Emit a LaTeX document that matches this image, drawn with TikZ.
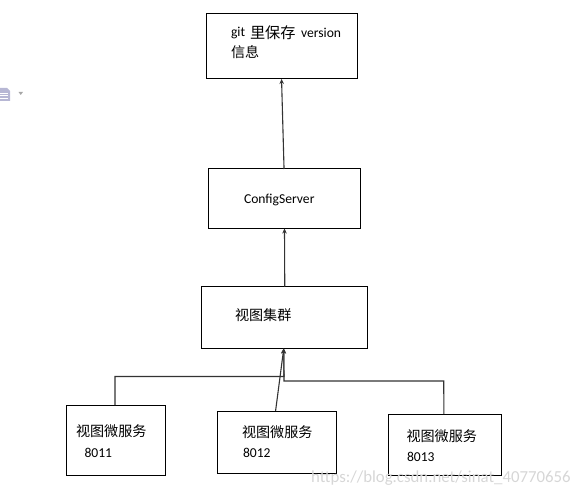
\documentclass[tikz,border=0pt]{standalone}
\usepackage{fontspec}
\setmainfont{Carlito}
\newfontfamily\cjk{Noto Sans CJK SC}
\usetikzlibrary{calc,arrows.meta}
\tikzset{
  x=1bp,y=-1bp,
  box/.style={draw=black,line width=1bp,inner sep=0,outer sep=0,rectangle},
  lbl/.style={anchor=west,inner sep=0,outer sep=0,text=black,font=\fontsize{13.6bp}{16bp}\selectfont},
  zh/.style={anchor=west,inner sep=0,outer sep=0,text=black,font=\cjk\fontsize{14.1bp}{16bp}\selectfont},
  zhbig/.style={zh,font=\cjk\fontsize{15.2bp}{18bp}\selectfont},
  conn/.style={draw=black!80,line width=1.1bp,-{Stealth[length=5bp,width=4.5bp]}},
}
\newcommand{\boxat}[5]{\node[box,minimum width=#4 bp-#2 bp,minimum height=#5 bp-#3 bp] (#1) at ({(#2+#4)/2},{(#3+#5)/2}) {};}
\begin{document}
\begin{tikzpicture}
\useasboundingbox (0,0) rectangle (580,494);
\boxat{git}{206.5}{13.5}{357.5}{79}
\boxat{cfg}{208.5}{169}{360.5}{228.5}
\boxat{cluster}{201}{286.5}{367.5}{348.5}
\boxat{mA}{66.5}{405}{165.5}{475}
\boxat{mB}{217.5}{411}{336}{473.5}
\boxat{mC}{388}{414}{501}{475.5}
% labels
\node[lbl] (t1a) at (231,33) {git};
\node[zhbig] (t1b) at (250,32.5) {里保存};
\node[lbl] (t1c) at (301,33) {version};
\node[zh] (t2) at (231,52.5) {信息};
\node[lbl] (t3) at (244,200) {ConfigServer};
\node[zh] (t4) at (235,315) {视图集群};
\node[zh] (t5) at (76,431) {视图微服务};
\node[lbl] (t6) at (84.5,453) {8011};
\node[zh] (t7) at (242,432) {视图微服务};
\node[lbl] (t8) at (243,452.5) {8012};
\node[zh] (t9) at (406.5,436) {视图微服务};
\node[lbl] (t10) at (407,457) {8013};
% connectors
\coordinate (jA) at (115,376.5);
\coordinate (jA2) at (284,376.5);
\coordinate (jC) at (443.7,381);
\coordinate (jC2) at (284,381);
\draw[conn] ($(cfg.north west)!0.497!(cfg.north east)$) -- ($(git.south west)!0.497!(git.south east)$);
\draw[conn] ($(cluster.north west)!0.503!(cluster.north east)$) -- ($(cfg.south west)!0.5!(cfg.south east)$);
\draw[conn] ($(mA.north west)!0.49!(mA.north east)$) -- (jA) -- (jA2) -- ($(cluster.south west)!0.497!(cluster.south east)$);
\draw[conn] ($(mB.north west)!0.49!(mB.north east)$) -- ($(cluster.south west)!0.497!(cluster.south east)$);
\draw[conn] ($(mC.north west)!0.495!(mC.north east)$) -- (jC) -- (jC2) -- ($(cluster.south west)!0.497!(cluster.south east)$);
% icon
\fill[blue!25!gray!45] (0,88) -- (7,88) -- (10,91) -- (10,101) -- (0,101) -- cycle;
\draw[white,line width=0.7bp] (0,93) -- (8,93) (0,95.5) -- (8,95.5) (0,98) -- (8,98);
\fill[black!35] (18.5,92) -- (23,92) -- (20.75,95) -- cycle;
\node[anchor=west,inner sep=0,text=black!16,font=\fontsize{16.8bp}{18bp}\selectfont] (wm) at (311,478) {https://blog.csdn.net/sinat\_40770656};
\end{tikzpicture}
\end{document}
